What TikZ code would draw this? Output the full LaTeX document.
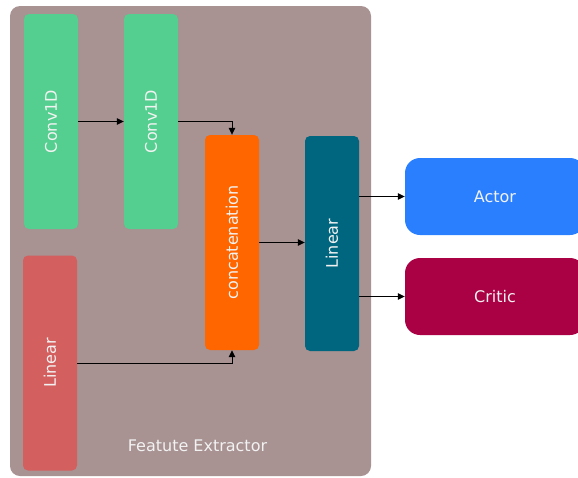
\documentclass[tikz,border=0pt]{standalone}
\usepackage{fontspec}
\setmainfont{DejaVu Sans}
\usetikzlibrary{arrows.meta}
\definecolor{bgc}{HTML}{A89292}
\definecolor{convc}{HTML}{54CF8F}
\definecolor{catc}{HTML}{FF6600}
\definecolor{linc}{HTML}{006680}
\definecolor{redc}{HTML}{D45F5F}
\definecolor{actc}{HTML}{2A7FFF}
\definecolor{crc}{HTML}{AA0044}
\definecolor{txtc}{HTML}{F2F2F2}
\tikzset{
  vbox/.style={rounded corners=5pt, minimum width=54pt, minimum height=215pt, inner sep=0pt, text=txtc, font=\fontsize{16}{19}\selectfont},
  hbox/.style={rounded corners=15pt, minimum width=180pt, minimum height=77pt, inner sep=0pt, text=txtc, font=\fontsize{16}{19}\selectfont},
  conn/.style={draw=black, line width=1pt, -{Triangle[length=7pt,width=6.5pt]}}
}
\begin{document}
\begin{tikzpicture}[x=1pt,y=-1pt]
\useasboundingbox (0,0) rectangle (578,477);
\fill[bgc, rounded corners=10pt] (10,6) rectangle (371,476);
\node[text=txtc, font=\fontsize{16}{19}\selectfont] (fe) at (197.5,446) {Featute Extractor};
\node[vbox, fill=convc] (c1) at (51,121.5) {\rotatebox{90}{Conv1D}};
\node[vbox, fill=convc] (c2) at (151,121.5) {\rotatebox{90}{Conv1D}};
\node[vbox, fill=catc] (cat) at (232,242.5) {\rotatebox{90}{concatenation}};
\node[vbox, fill=linc] (lin2) at (332,243.5) {\rotatebox{90}{Linear}};
\node[vbox, fill=redc] (lin1) at (50,363) {\rotatebox{90}{Linear}};
\node[hbox, fill=actc] (actor) at (495,196.5) {Actor};
\node[hbox, fill=crc] (critic) at (495,296.5) {Critic};
\draw[conn] (c1.east) -- (c2.west);
\draw[conn] (c2.east) -| (cat.north);
\draw[conn] (lin1.east) -| (cat.south);
\draw[conn] (cat.east) -- (cat.east -| lin2.west);
\draw[conn] (actor.west -| lin2.east) -- (actor.west);
\draw[conn] (critic.west -| lin2.east) -- (critic.west);
\end{tikzpicture}
\end{document}
